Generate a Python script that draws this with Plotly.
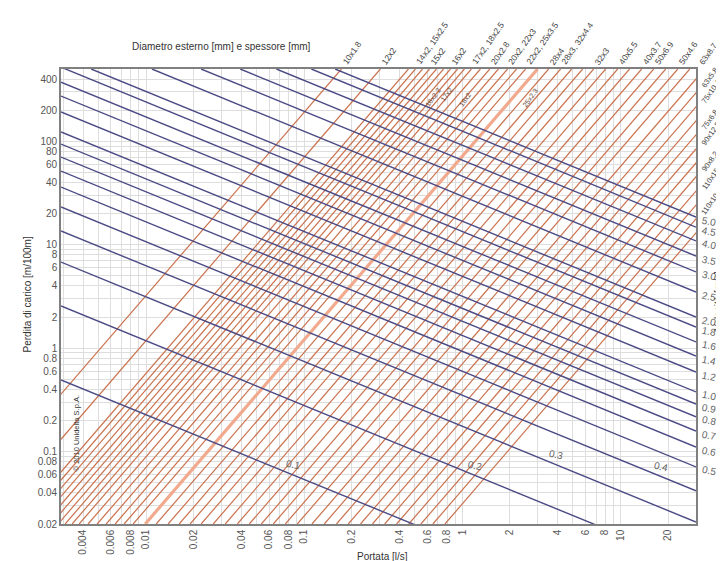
import math
import plotly.graph_objects as go

# ---------------- data ----------------
# Pipe lines (outer diameter x wall thickness): flow [l/s] where each line
# meets the top edge (J = 500 m/100m) and the bottom edge (J = 0.02 m/100m)
pipe_labels = [
    "10x1.8", "12x2", "", "14x2, 15x2.5", "", "15x2", "", "", "16x2", "", "",
    "17x2, 18x2.5", "", "20x2.8", "", "20x2, 22x3", "", "22x2, 25x3.5", "",
    "28x4", "28x3, 32x4.4", "", "", "32x3", "", "40x5.5", "", "40x3.7",
    "50x6.9", "", "50x4.6", "", "63x8.7", "63x5.8", "75x10.4", "", "75x6.8",
    "90x12.5", "", "90x8.2", "110x15.2", "", "110x10", "",
]
pipe_q_top = [
    0.172, 0.303, 0.456, 0.505, 0.560, 0.620, 0.686, 0.760, 0.841, 0.932, 1.03,
    1.14, 1.30, 1.49, 1.69, 1.93, 2.20, 2.51, 2.99, 3.51, 4.18, 4.91, 5.76,
    6.76, 8.05, 9.59, 11.4, 13.6, 16.2, 19.3, 23.0, 27.4, 34.0, 40.5, 48.3,
    57.6, 68.6, 81.9, 97.6, 116, 139, 166, 197, 235,
]
pipe_q_bottom = [
    0.000568, 0.00100, 0.00151, 0.00167, 0.00185, 0.00205, 0.00227, 0.00251,
    0.00278, 0.00308, 0.00341, 0.00378, 0.00430, 0.00491, 0.00560, 0.00638,
    0.00727, 0.00829, 0.00988, 0.0116, 0.0138, 0.0162, 0.0190, 0.0223, 0.0266,
    0.0317, 0.0378, 0.0450, 0.0536, 0.0638, 0.0760, 0.0905, 0.112, 0.134,
    0.160, 0.190, 0.227, 0.270, 0.323, 0.384, 0.458, 0.547, 0.651, 0.776,
]
pipe_j_top = 500
pipe_j_bottom = 0.02
highlight_pipe = 18          # the thick pale line
inner_pipe_labels = ["16x2.2", "17x2", "18x2", "25x2.3"]

# Velocity lines [m/s]: start point and end point (flow l/s, loss m/100m)
velocities = ["0.1", "0.2", "0.3", "0.4", "0.5", "0.6", "0.7", "0.8", "0.9",
              "1.0", "1.2", "1.4", "1.6", "1.8", "2.0", "2.5", "3.0", "3.5",
              "4.0", "4.5", "5.0"]
vel_q_start = [0.0029, 0.0029, 0.0029, 0.0029, 0.0029, 0.0029, 0.0029, 0.0029,
               0.0029, 0.0029, 0.0029, 0.0029, 0.0029, 0.0029, 0.0045, 0.0109,
               0.0223, 0.0394, 0.0667, 0.111, 0.157]
vel_j_start = [0.493, 2.56, 6.81, 13.6, 23.2, 36.1, 51.6, 70.4, 94.0, 123, 192,
               274, 373, 521, 500, 500, 500, 500, 500, 500, 500]
vel_q_end = [30] * 21
vel_j_end = [0.00152, 0.00787, 0.0209, 0.0418, 0.0713, 0.111, 0.158, 0.217,
             0.289, 0.378, 0.589, 0.841, 1.15, 1.60, 2.00, 3.49, 5.46, 7.78,
             10.9, 14.8, 18.5]
inside_vel_labels = ["0.1", "0.2", "0.3", "0.4"]
inside_vel_label_q = [0.085, 1.2, 3.9, 18]

# Axis ticks
x_min, x_max = 0.0029, 30
y_min, y_max = 0.02, 500
x_tick_labels = ["0.004", "0.006", "0.008", "0.01", "0.02", "0.04", "0.06",
                 "0.08", "0.1", "0.2", "0.4", "0.6", "0.8", "1", "2", "4", "6",
                 "8", "10", "20"]
y_tick_labels = ["0.02", "0.04", "0.06", "0.08", "0.1", "0.2", "0.4", "0.6",
                 "0.8", "1", "2", "4", "6", "8", "10", "20", "40", "60", "80",
                 "100", "200", "400"]

# ---------------- styles ----------------
PIPE = "rgb(202,114,78)"
PIPE_HL = "rgba(240,165,135,0.95)"
VEL = "rgb(74,74,132)"
GRID = "rgb(222,222,222)"
TXT = "#555555"
FONT = "Liberation Sans, Arial, sans-serif"


def log_interp(q, q1, j1, q2, j2):
    lq, lq1, lq2 = math.log10(q), math.log10(q1), math.log10(q2)
    t = (lq - lq1) / (lq2 - lq1)
    return 10 ** (math.log10(j1) + t * (math.log10(j2) - math.log10(j1)))


def grid_values(lo, hi):
    vals = []
    d = 10 ** math.floor(math.log10(lo))
    while d <= hi:
        for m in range(1, 10):
            v = round(m * d, 10)
            if lo * 0.999 <= v <= hi * 1.001:
                vals.append(v)
        d *= 10
    return vals


def fmt(v):
    return ("%.6f" % v).rstrip("0").rstrip(".")


fig = go.Figure()

# pipe lines
for i, (qt, qb) in enumerate(zip(pipe_q_top, pipe_q_bottom)):
    hl = i == highlight_pipe
    fig.add_trace(go.Scatter(
        x=[qb, qt], y=[pipe_j_bottom, pipe_j_top], mode="lines",
        line=dict(color=PIPE_HL if hl else PIPE, width=3.2 if hl else 1.2),
        hoverinfo="skip", showlegend=False))

# velocity lines
for qs, js, qe, je in zip(vel_q_start, vel_j_start, vel_q_end, vel_j_end):
    fig.add_trace(go.Scatter(
        x=[qs, qe], y=[js, je], mode="lines",
        line=dict(color=VEL, width=1.4),
        hoverinfo="skip", showlegend=False))

ann = []
top_limit = 10 ** (math.log10(y_max) - 0.12)   # exits this close to the top get a top label
# pipe labels
for lab, qt, qb in zip(pipe_labels, pipe_q_top, pipe_q_bottom):
    if not lab:
        continue
    if qt <= x_max:
        ann.append(dict(x=math.log10(qt), y=math.log10(y_max), xref="x", yref="y",
                        text=lab, showarrow=False, textangle=-55,
                        xanchor="left", yanchor="bottom", xshift=-4,
                        font=dict(size=8.5, color="#444", family=FONT)))
    else:
        je = log_interp(x_max, qb, pipe_j_bottom, qt, pipe_j_top)
        if je >= top_limit:
            ann.append(dict(x=math.log10(x_max), y=math.log10(y_max), xref="x",
                            yref="y", text=lab, showarrow=False, textangle=-55,
                            xanchor="left", yanchor="bottom", xshift=-1,
                            font=dict(size=8, color="#444", family=FONT)))
        else:
            ann.append(dict(x=math.log10(x_max), y=math.log10(je), xref="x",
                            yref="y", text=lab, showarrow=False, textangle=-55,
                            xanchor="left", yanchor="middle", xshift=1, yshift=15,
                            font=dict(size=7.5, color="#444", family=FONT)))

# small labels written along the pipe lines inside the chart
for lab, (px, py) in zip(inner_pipe_labels,
                         [(0.586, 0.966), (0.607, 0.968), (0.636, 0.958), (0.758, 0.966)]):
    ann.append(dict(x=px, y=py, xref="paper", yref="paper", text=lab,
                    showarrow=False, textangle=-55,
                    font=dict(size=7, color="#6a4a3a", family=FONT)))

# velocity labels at right edge
for lab, je in zip(velocities, vel_j_end):
    if lab in inside_vel_labels:
        continue
    ann.append(dict(x=math.log10(x_max), y=math.log10(je), xref="x", yref="y",
                    text=lab, showarrow=False, textangle=12,
                    xanchor="left", yanchor="middle", xshift=3, yshift=-4,
                    font=dict(size=10, color="#666", family=FONT)))
# velocity labels inside
for lab, q in zip(inside_vel_labels, inside_vel_label_q):
    k = velocities.index(lab)
    j = log_interp(q, vel_q_start[k], vel_j_start[k], vel_q_end[k], vel_j_end[k])
    ann.append(dict(x=math.log10(q), y=math.log10(j), xref="x", yref="y",
                    text=lab, showarrow=False, textangle=12,
                    xanchor="center", yanchor="bottom", yshift=1,
                    font=dict(size=10, color="#666", family=FONT)))

# titles
ann += [
    dict(x=0.109, y=1.0505, xref="paper", yref="paper", xanchor="left",
         yanchor="middle", showarrow=False,
         text="Diametro esterno [mm] e spessore [mm]",
         font=dict(size=10, color="#333", family=FONT)),
    dict(x=0.506, y=-0.088, xref="paper", yref="paper", showarrow=False,
         text="Portata [l/s]", font=dict(size=10, color="#333", family=FONT)),
    dict(x=-0.065, y=0.505, xref="paper", yref="paper", showarrow=False,
         textangle=-90, text="Perdita di carico [m/100m]",
         font=dict(size=10, color="#333", family=FONT)),
    dict(x=1.046, y=0.49, xref="paper", yref="paper", showarrow=False,
         textangle=-90, text="Velocità [m/s]",
         font=dict(size=10, color="#333", family=FONT)),
    dict(x=0.014, y=0.112, xref="paper", yref="paper", showarrow=False,
         textangle=-90, text="© 2010 Unidelta S.p.A.",
         font=dict(size=7.5, color="#333", family=FONT)),
]

xgrid = grid_values(x_min, x_max)
ygrid = grid_values(y_min, y_max)
xtext = [fmt(v) if fmt(v) in x_tick_labels else "" for v in xgrid]
ytext = [fmt(v) if fmt(v) in y_tick_labels else "" for v in ygrid]

axis_common = dict(type="log", showgrid=True, gridcolor=GRID, gridwidth=0.8,
                   showline=True, linecolor="#808080", linewidth=1.6, mirror=True,
                   ticks="", zeroline=False,
                   tickfont=dict(size=10, color=TXT, family=FONT))

fig.update_layout(
    width=724, height=561,
    margin=dict(l=53, r=36, t=61, b=45),
    paper_bgcolor="white", plot_bgcolor="white",
    showlegend=False,
    annotations=ann,
    xaxis=dict(range=[math.log10(x_min), math.log10(x_max)],
               tickmode="array", tickvals=xgrid, ticktext=xtext, tickangle=-90,
               **axis_common),
    yaxis=dict(range=[math.log10(y_min), math.log10(y_max)],
               tickmode="array", tickvals=ygrid, ticktext=ytext,
               **axis_common),
)

fig.write_html("out.html")
